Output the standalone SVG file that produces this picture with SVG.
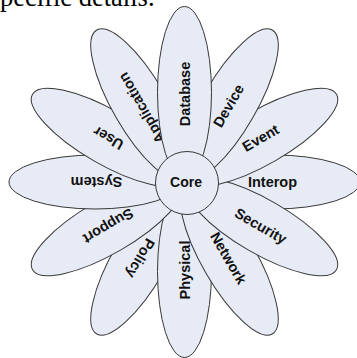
<svg xmlns="http://www.w3.org/2000/svg" width="357" height="358" viewBox="0 0 357 358">
<style>
.petal{fill:#e7ebf6;stroke:#383838;stroke-width:1}
.lbl{font-family:"Liberation Sans",Arial,sans-serif;font-weight:bold;font-size:14.5px;fill:#111;text-anchor:middle;dominant-baseline:central}
.top{font-family:"Liberation Serif","Times New Roman",serif;font-size:26.5px;fill:#000}
</style>
<rect width="357" height="358" fill="#fff"/>
<text class="top" x="0" y="6">pecific details.</text>
<g id="petals">
<g id="policy" transform="rotate(120 184.5 182)"><ellipse class="petal" cx="274" cy="182" rx="86" ry="27"/><text class="lbl" x="272.5" y="182">Policy</text></g>
<g id="interop" transform="rotate(0 184.5 182)"><ellipse class="petal" cx="274" cy="182" rx="86" ry="27"/><text class="lbl" x="272.5" y="182">Interop</text></g>
<g id="physical" transform="rotate(90 184.5 182)"><ellipse class="petal" cx="274" cy="182" rx="86" ry="27"/><text class="lbl" x="272.5" y="182" transform="rotate(180 272.5 182)">Physical</text></g>
<g id="network" transform="rotate(60 184.5 182)"><ellipse class="petal" cx="274" cy="182" rx="86" ry="27"/><text class="lbl" x="272.5" y="182">Network</text></g>
<g id="security" transform="rotate(30 184.5 182)"><ellipse class="petal" cx="274" cy="182" rx="86" ry="27"/><text class="lbl" x="272.5" y="182">Security</text></g>
<g id="event" transform="rotate(-30 184.5 182)"><ellipse class="petal" cx="274" cy="182" rx="86" ry="27"/><text class="lbl" x="272.5" y="182">Event</text></g>
<g id="device" transform="rotate(-60 184.5 182)"><ellipse class="petal" cx="274" cy="182" rx="86" ry="27"/><text class="lbl" x="272.5" y="182">Device</text></g>
<g id="support" transform="rotate(150 184.5 182)"><ellipse class="petal" cx="274" cy="182" rx="86" ry="27"/><text class="lbl" x="272.5" y="182">Support</text></g>
<g id="system" transform="rotate(180 184.5 182)"><ellipse class="petal" cx="274" cy="182" rx="86" ry="27"/><text class="lbl" x="272.5" y="182">System</text></g>
<g id="user" transform="rotate(210 184.5 182)"><ellipse class="petal" cx="274" cy="182" rx="86" ry="27"/><text class="lbl" x="272.5" y="182">User</text></g>
<g id="application" transform="rotate(240 184.5 182)"><ellipse class="petal" cx="274" cy="182" rx="86" ry="27"/><text class="lbl" x="270" y="182">Application</text></g>
<g id="database" transform="rotate(-90 184.5 182)"><ellipse class="petal" cx="274" cy="182" rx="86" ry="27"/><text class="lbl" x="272.5" y="182">Database</text></g>
</g>
<g id="core"><circle class="petal" cx="187" cy="183" r="31.5"/><text class="lbl" x="186" y="182" style="font-size:14px">Core</text></g>
</svg>
